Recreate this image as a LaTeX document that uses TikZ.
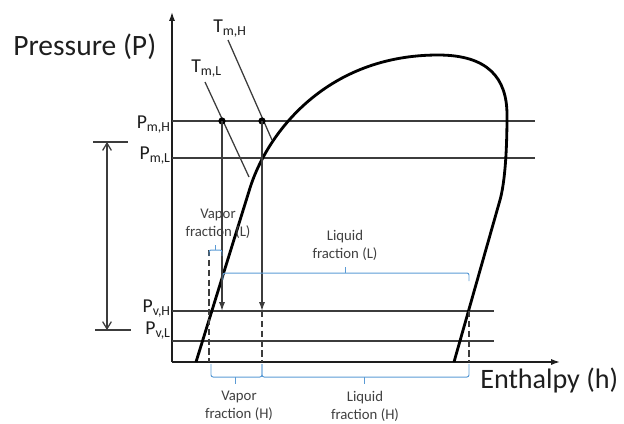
\documentclass[tikz,border=0pt]{standalone}
\usepackage{fontspec}
\setmainfont{Carlito}
\usetikzlibrary{arrows.meta,positioning,calc}
\definecolor{brkblue}{RGB}{91,155,213}
\definecolor{txtgray}{RGB}{64,64,64}
\definecolor{linegray}{RGB}{60,60,60}
\definecolor{axisblack}{RGB}{30,30,30}

\tikzset{
  level/.style={linegray, line width=0.9pt},
  dome/.style={black, line width=2pt, line join=round},
  guide/.style={linegray, line width=0.8pt, dash pattern=on 4.5pt off 2.5pt},
  brk/.style={brkblue, line width=0.7pt, rounded corners=1.5pt},
  brklbl/.style={txtgray, font=\fontsize{10.5}{12.8}\selectfont, align=center, inner sep=0pt},
  plbl/.style={axisblack, font=\fontsize{14}{16}\selectfont, inner sep=0pt},
  bigtxt/.style={axisblack, font=\fontsize{21}{24}\selectfont, inner sep=0pt}
}

\begin{document}
\begin{tikzpicture}[x=0.025cm, y=-0.025cm]
\useasboundingbox (0,0) rectangle (624,423);
% axes
\coordinate (org) at (172,362);
\draw[axisblack, line width=1pt, -{Latex[length=2.2mm,width=1.5mm]}] (org) -- (172,12);
\draw[axisblack, line width=1pt, -{Latex[length=2.2mm,width=1.5mm]}] (org) -- (560,362);
\node[bigtxt, anchor=base west] (pres) at (13,55) {Pressure (P)};
\node[bigtxt, anchor=base west, font=\fontsize{20}{24}\selectfont] (enth) at (480,388) {Enthalpy (h)};
% pressure levels
\coordinate (pmH) at (172,121);
\coordinate (pmL) at (172,158);
\coordinate (pvH) at (172,311);
\coordinate (pvL) at (172,341);
\draw[level] (pmH) -- ++(363,0);
\draw[level] (pmL) -- ++(363,0);
\draw[level] (pvH) -- ++(322,0);
\draw[level] (pvL) -- ++(322,0);
\node[plbl, anchor=base east] (lblmH) at (171,128) {P\textsubscript{m,H}};
\node[plbl, anchor=base east] (lblmL) at (171,159) {P\textsubscript{m,L}};
\node[plbl, anchor=base east] (lblvH) at (171,312) {P\textsubscript{v,H}};
\node[plbl, anchor=base east] (lblvL) at (171,334) {P\textsubscript{v,L}};
% pressure drop span
\coordinate (spanT) at (107,142);
\coordinate (spanB) at (107,330);
\draw[level] (93,142) -- (128,142);
\draw[level] (95,330) -- (131,330);
\draw[level, {Straight Barb[length=1.8mm,width=2.2mm]}-{Straight Barb[length=1.8mm,width=2.2mm]}] (spanT) -- (spanB);
% saturation dome
\draw[dome] (196,362) -- (250,188) .. controls (268,131) and (328,55) .. (438,55)
  .. controls (488,55) and (507,78) .. (507,115)
  .. controls (507,150) and (505,182) .. (500,200) -- (454,362);
% isotherms
\node[plbl, anchor=base west] (tmH) at (213,32) {T\textsubscript{m,H}};
\node[plbl, anchor=base west] (tmL) at (191,72) {T\textsubscript{m,L}};
\draw[level] (228,40) -- (272,140);
\draw[level] (205,82) -- (249,177);
% throttling from the mixing states
\coordinate (dotL) at (222,121);
\coordinate (dotH) at (262,121);
\fill[black] (dotL) circle (2.6pt);
\fill[black] (dotH) circle (2.6pt);
\draw[level, -{Latex[length=2.2mm,width=1.5mm]}] (dotL) -- (dotL |- pvH);
\draw[level, -{Latex[length=2.2mm,width=1.5mm]}] (dotH) -- (dotH |- pvH);
% quality guides
\draw[guide] (209,250) -- (209,362);
\draw[guide] (dotH |- pvH) -- (dotH |- org);
\draw[guide] (469,311) -- (469,362);
% fraction brackets
\draw[brk] (209,256) |- (222,250) -- (222,256);
\draw[brk] (215.5,250) -- (215.5,245);
\draw[brk] (223,280) |- (469,273) -- (469,281);
\draw[brk] (345,273) -- (345,267);
\draw[brk] (211,364) |- (262,377) -- (262,364);
\draw[brk] (235,377) -- (235,384);
\draw[brk] (262,364) |- (469,377) -- (469,364);
\draw[brk] (364,377) -- (364,384);
\node[brklbl] (vapL) at (218,224) {Vapor\\fraction (L)};
\node[brklbl] (liqL) at (345,245) {Liquid\\fraction (L)};
\node[brklbl] (vapH) at (239,406) {Vapor\\fraction (H)};
\node[brklbl] (liqH) at (365,406) {Liquid\\fraction (H)};
\end{tikzpicture}
\end{document}
